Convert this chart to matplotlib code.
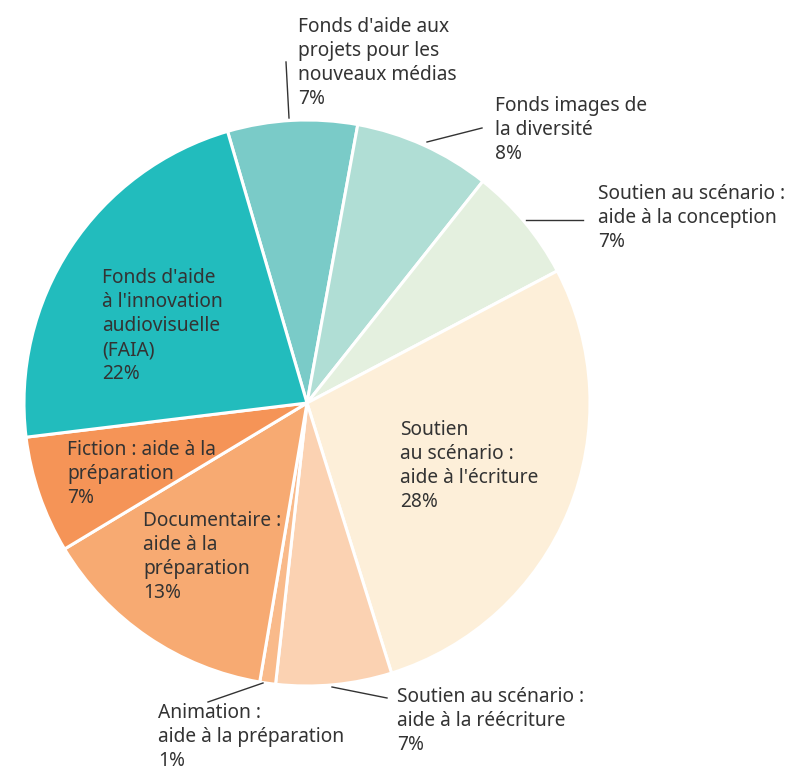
import matplotlib
matplotlib.use("Agg")
import matplotlib.pyplot as plt

labels = [
    "Fonds d'aide aux\nprojets pour les\nnouveaux médias",
    "Fonds images de\nla diversité",
    "Soutien au scénario :\naide à la conception",
    "Soutien\nau scénario :\naide à l'écriture",
    "Soutien au scénario :\naide à la réécriture",
    "Animation :\naide à la préparation",
    "Documentaire :\naide à la\npréparation",
    "Fiction : aide à la\npréparation",
    "Fonds d'aide\nà l'innovation\naudiovisuelle\n(FAIA)",
]
values = [7.4, 7.8, 6.6, 27.9, 6.6, 0.9, 13.7, 6.7, 22.4]
pct_labels = ["7%", "8%", "7%", "28%", "7%", "1%", "13%", "7%", "22%"]
colors = ["#7ACBC8", "#B0DED5", "#E4F0DF", "#FDEFD9", "#FBD2B2",
          "#F9BA8A", "#F7AA72", "#F59457", "#22BCBD"]

W, H = 795, 771
fig = plt.figure(figsize=(W / 100, H / 100), dpi=100)
ax = fig.add_axes([0, 0, 1, 1])

ax.pie(values, colors=colors, startangle=106.3, counterclock=False,
       center=(307, H - 403), radius=283,
       wedgeprops=dict(edgecolor="white", linewidth=2.2))

ax.set_xlim(0, W)
ax.set_ylim(0, H)
ax.set_aspect("equal")
ax.axis("off")

# label positions (left x, top y in pixels from top)
pos = [(298, 17), (495, 96), (598, 184), (400, 420), (397, 687),
       (158, 703), (143, 511), (67, 440), (102, 268)]
txtc = "#333333"
for lab, pct, (x, y) in zip(labels, pct_labels, pos):
    ax.text(x, H - y, lab + "\n" + pct, ha="left", va="top",
            fontsize=13.8, family=["Noto Sans", "DejaVu Sans"], color=txtc,
            linespacing=1.27)

# leader lines (pixel coords from top)
leaders = [((286, 62), (289, 118)),
           ((427, 142), (482, 128)),
           ((526, 220), (583, 220)),
           ((332, 687), (387, 698)),
           ((263, 683), (208, 702))]
for (x0, y0), (x1, y1) in leaders:
    ax.plot([x0, x1], [H - y0, H - y1], color="#333333", lw=1.0)

fig.savefig("out.png", dpi=100)
